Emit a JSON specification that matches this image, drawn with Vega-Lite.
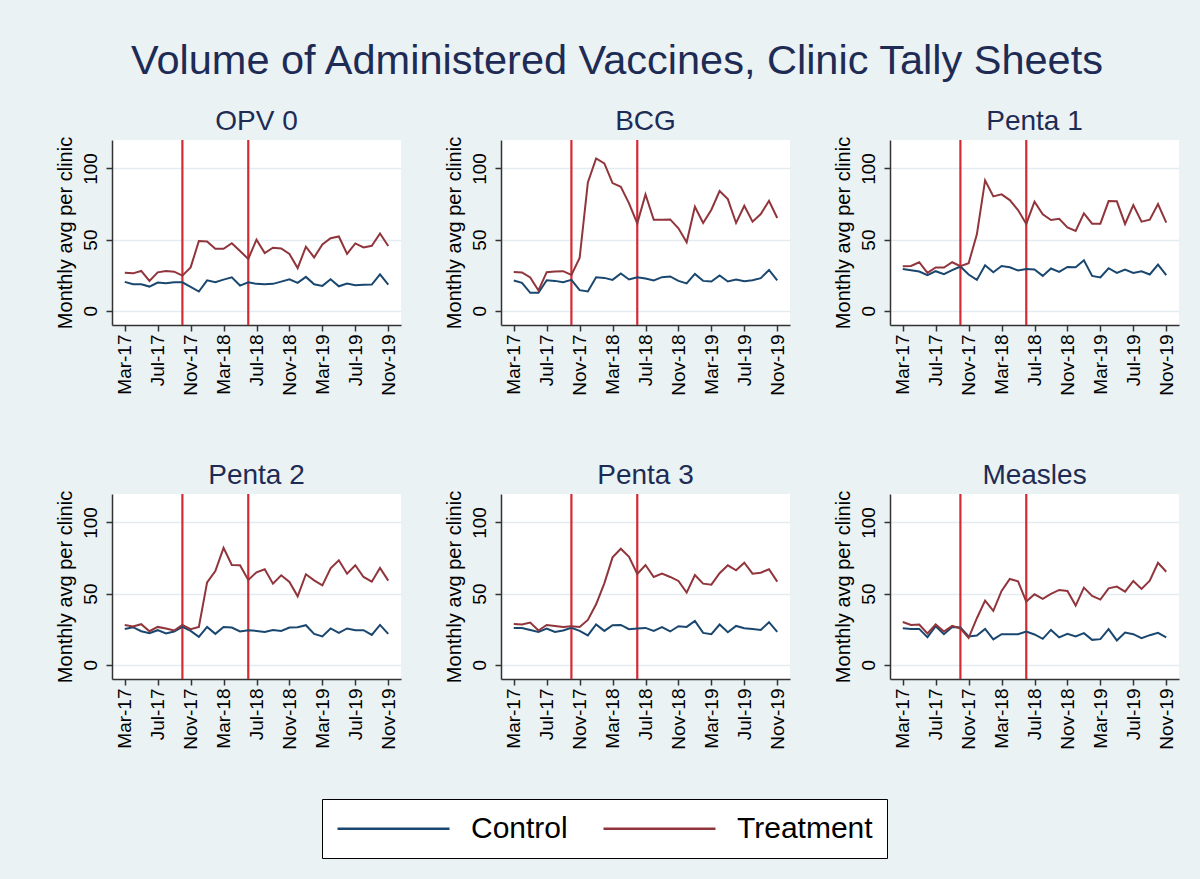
{
"$schema": "https://vega.github.io/schema/vega-lite/v6.json",
"background": "#EAF2F3",
"padding": {"left": 55, "top": 40, "right": 26, "bottom": 21},
"title": {"text": "Volume of Administered Vaccines, Clinic Tally Sheets", "fontSize": 41.5, "fontWeight": "normal", "color": "#1e2b55", "anchor": "middle", "offset": 26},
"datasets": {
"series": [
{"vaccine":"OPV 0","month":0,"group":"Control","value":20.3},{"vaccine":"OPV 0","month":1,"group":"Control","value":18.6},{"vaccine":"OPV 0","month":2,"group":"Control","value":18.6},{"vaccine":"OPV 0","month":3,"group":"Control","value":17},{"vaccine":"OPV 0","month":4,"group":"Control","value":19.8},{"vaccine":"OPV 0","month":5,"group":"Control","value":19.3},{"vaccine":"OPV 0","month":6,"group":"Control","value":20},{"vaccine":"OPV 0","month":7,"group":"Control","value":20},{"vaccine":"OPV 0","month":8,"group":"Control","value":16.8},{"vaccine":"OPV 0","month":9,"group":"Control","value":13.5},{"vaccine":"OPV 0","month":10,"group":"Control","value":21.4},{"vaccine":"OPV 0","month":11,"group":"Control","value":20},{"vaccine":"OPV 0","month":12,"group":"Control","value":21.9},{"vaccine":"OPV 0","month":13,"group":"Control","value":23.5},{"vaccine":"OPV 0","month":14,"group":"Control","value":17.7},{"vaccine":"OPV 0","month":15,"group":"Control","value":20},{"vaccine":"OPV 0","month":16,"group":"Control","value":18.9},{"vaccine":"OPV 0","month":17,"group":"Control","value":18.6},{"vaccine":"OPV 0","month":18,"group":"Control","value":18.9},{"vaccine":"OPV 0","month":19,"group":"Control","value":20.5},{"vaccine":"OPV 0","month":20,"group":"Control","value":22.1},{"vaccine":"OPV 0","month":21,"group":"Control","value":19.6},{"vaccine":"OPV 0","month":22,"group":"Control","value":23.8},{"vaccine":"OPV 0","month":23,"group":"Control","value":18.6},{"vaccine":"OPV 0","month":24,"group":"Control","value":17.5},{"vaccine":"OPV 0","month":25,"group":"Control","value":22.1},{"vaccine":"OPV 0","month":26,"group":"Control","value":17.2},{"vaccine":"OPV 0","month":27,"group":"Control","value":19.1},{"vaccine":"OPV 0","month":28,"group":"Control","value":18},{"vaccine":"OPV 0","month":29,"group":"Control","value":18.2},{"vaccine":"OPV 0","month":30,"group":"Control","value":18.4},{"vaccine":"OPV 0","month":31,"group":"Control","value":25.6},{"vaccine":"OPV 0","month":32,"group":"Control","value":18.4},
{"vaccine":"OPV 0","month":0,"group":"Treatment","value":26.8},{"vaccine":"OPV 0","month":1,"group":"Treatment","value":26.3},{"vaccine":"OPV 0","month":2,"group":"Treatment","value":28},{"vaccine":"OPV 0","month":3,"group":"Treatment","value":21},{"vaccine":"OPV 0","month":4,"group":"Treatment","value":27},{"vaccine":"OPV 0","month":5,"group":"Treatment","value":28},{"vaccine":"OPV 0","month":6,"group":"Treatment","value":27.5},{"vaccine":"OPV 0","month":7,"group":"Treatment","value":24.7},{"vaccine":"OPV 0","month":8,"group":"Treatment","value":30.5},{"vaccine":"OPV 0","month":9,"group":"Treatment","value":49},{"vaccine":"OPV 0","month":10,"group":"Treatment","value":48.7},{"vaccine":"OPV 0","month":11,"group":"Treatment","value":43.6},{"vaccine":"OPV 0","month":12,"group":"Treatment","value":43.6},{"vaccine":"OPV 0","month":13,"group":"Treatment","value":47.5},{"vaccine":"OPV 0","month":14,"group":"Treatment","value":42},{"vaccine":"OPV 0","month":15,"group":"Treatment","value":36.4},{"vaccine":"OPV 0","month":16,"group":"Treatment","value":50},{"vaccine":"OPV 0","month":17,"group":"Treatment","value":40.6},{"vaccine":"OPV 0","month":18,"group":"Treatment","value":44.3},{"vaccine":"OPV 0","month":19,"group":"Treatment","value":43.8},{"vaccine":"OPV 0","month":20,"group":"Treatment","value":39.9},{"vaccine":"OPV 0","month":21,"group":"Treatment","value":30},{"vaccine":"OPV 0","month":22,"group":"Treatment","value":45},{"vaccine":"OPV 0","month":23,"group":"Treatment","value":37.5},{"vaccine":"OPV 0","month":24,"group":"Treatment","value":46.6},{"vaccine":"OPV 0","month":25,"group":"Treatment","value":51},{"vaccine":"OPV 0","month":26,"group":"Treatment","value":52.2},{"vaccine":"OPV 0","month":27,"group":"Treatment","value":40},{"vaccine":"OPV 0","month":28,"group":"Treatment","value":47.3},{"vaccine":"OPV 0","month":29,"group":"Treatment","value":44.5},{"vaccine":"OPV 0","month":30,"group":"Treatment","value":45.7},{"vaccine":"OPV 0","month":31,"group":"Treatment","value":54.3},{"vaccine":"OPV 0","month":32,"group":"Treatment","value":45.5},
{"vaccine":"BCG","month":0,"group":"Control","value":21.3},{"vaccine":"BCG","month":1,"group":"Control","value":19.6},{"vaccine":"BCG","month":2,"group":"Control","value":12.6},{"vaccine":"BCG","month":3,"group":"Control","value":12.6},{"vaccine":"BCG","month":4,"group":"Control","value":21.5},{"vaccine":"BCG","month":5,"group":"Control","value":21},{"vaccine":"BCG","month":6,"group":"Control","value":20.1},{"vaccine":"BCG","month":7,"group":"Control","value":21.7},{"vaccine":"BCG","month":8,"group":"Control","value":14.5},{"vaccine":"BCG","month":9,"group":"Control","value":13.6},{"vaccine":"BCG","month":10,"group":"Control","value":23.6},{"vaccine":"BCG","month":11,"group":"Control","value":23.1},{"vaccine":"BCG","month":12,"group":"Control","value":21.7},{"vaccine":"BCG","month":13,"group":"Control","value":26.2},{"vaccine":"BCG","month":14,"group":"Control","value":22},{"vaccine":"BCG","month":15,"group":"Control","value":23.6},{"vaccine":"BCG","month":16,"group":"Control","value":22.7},{"vaccine":"BCG","month":17,"group":"Control","value":21.3},{"vaccine":"BCG","month":18,"group":"Control","value":23.6},{"vaccine":"BCG","month":19,"group":"Control","value":24.1},{"vaccine":"BCG","month":20,"group":"Control","value":21},{"vaccine":"BCG","month":21,"group":"Control","value":19.2},{"vaccine":"BCG","month":22,"group":"Control","value":25.9},{"vaccine":"BCG","month":23,"group":"Control","value":21},{"vaccine":"BCG","month":24,"group":"Control","value":20.6},{"vaccine":"BCG","month":25,"group":"Control","value":24.8},{"vaccine":"BCG","month":26,"group":"Control","value":20.6},{"vaccine":"BCG","month":27,"group":"Control","value":22},{"vaccine":"BCG","month":28,"group":"Control","value":20.8},{"vaccine":"BCG","month":29,"group":"Control","value":21.5},{"vaccine":"BCG","month":30,"group":"Control","value":22.9},{"vaccine":"BCG","month":31,"group":"Control","value":28.7},{"vaccine":"BCG","month":32,"group":"Control","value":21.3},
{"vaccine":"BCG","month":0,"group":"Treatment","value":27.3},{"vaccine":"BCG","month":1,"group":"Treatment","value":26.9},{"vaccine":"BCG","month":2,"group":"Treatment","value":23.4},{"vaccine":"BCG","month":3,"group":"Treatment","value":14.3},{"vaccine":"BCG","month":4,"group":"Treatment","value":27.1},{"vaccine":"BCG","month":5,"group":"Treatment","value":27.6},{"vaccine":"BCG","month":6,"group":"Treatment","value":27.8},{"vaccine":"BCG","month":7,"group":"Treatment","value":25.2},{"vaccine":"BCG","month":8,"group":"Treatment","value":37.1},{"vaccine":"BCG","month":9,"group":"Treatment","value":90.2},{"vaccine":"BCG","month":10,"group":"Treatment","value":107},{"vaccine":"BCG","month":11,"group":"Treatment","value":103.5},{"vaccine":"BCG","month":12,"group":"Treatment","value":89.7},{"vaccine":"BCG","month":13,"group":"Treatment","value":87.1},{"vaccine":"BCG","month":14,"group":"Treatment","value":75.5},{"vaccine":"BCG","month":15,"group":"Treatment","value":61.4},{"vaccine":"BCG","month":16,"group":"Treatment","value":81.8},{"vaccine":"BCG","month":17,"group":"Treatment","value":64},{"vaccine":"BCG","month":18,"group":"Treatment","value":64},{"vaccine":"BCG","month":19,"group":"Treatment","value":64.2},{"vaccine":"BCG","month":20,"group":"Treatment","value":58},{"vaccine":"BCG","month":21,"group":"Treatment","value":48.1},{"vaccine":"BCG","month":22,"group":"Treatment","value":73.1},{"vaccine":"BCG","month":23,"group":"Treatment","value":61.7},{"vaccine":"BCG","month":24,"group":"Treatment","value":71},{"vaccine":"BCG","month":25,"group":"Treatment","value":84.1},{"vaccine":"BCG","month":26,"group":"Treatment","value":78.5},{"vaccine":"BCG","month":27,"group":"Treatment","value":61.7},{"vaccine":"BCG","month":28,"group":"Treatment","value":73.8},{"vaccine":"BCG","month":29,"group":"Treatment","value":62.6},{"vaccine":"BCG","month":30,"group":"Treatment","value":68},{"vaccine":"BCG","month":31,"group":"Treatment","value":77.3},{"vaccine":"BCG","month":32,"group":"Treatment","value":65.2},
{"vaccine":"Penta 1","month":0,"group":"Control","value":29.4},{"vaccine":"Penta 1","month":1,"group":"Control","value":28.5},{"vaccine":"Penta 1","month":2,"group":"Control","value":27.6},{"vaccine":"Penta 1","month":3,"group":"Control","value":25},{"vaccine":"Penta 1","month":4,"group":"Control","value":27.8},{"vaccine":"Penta 1","month":5,"group":"Control","value":25.7},{"vaccine":"Penta 1","month":6,"group":"Control","value":28.5},{"vaccine":"Penta 1","month":7,"group":"Control","value":31.1},{"vaccine":"Penta 1","month":8,"group":"Control","value":25.5},{"vaccine":"Penta 1","month":9,"group":"Control","value":21.7},{"vaccine":"Penta 1","month":10,"group":"Control","value":32},{"vaccine":"Penta 1","month":11,"group":"Control","value":27.1},{"vaccine":"Penta 1","month":12,"group":"Control","value":31.5},{"vaccine":"Penta 1","month":13,"group":"Control","value":30.6},{"vaccine":"Penta 1","month":14,"group":"Control","value":28.3},{"vaccine":"Penta 1","month":15,"group":"Control","value":29.4},{"vaccine":"Penta 1","month":16,"group":"Control","value":29},{"vaccine":"Penta 1","month":17,"group":"Control","value":24.5},{"vaccine":"Penta 1","month":18,"group":"Control","value":29.7},{"vaccine":"Penta 1","month":19,"group":"Control","value":27.3},{"vaccine":"Penta 1","month":20,"group":"Control","value":30.8},{"vaccine":"Penta 1","month":21,"group":"Control","value":30.6},{"vaccine":"Penta 1","month":22,"group":"Control","value":35.5},{"vaccine":"Penta 1","month":23,"group":"Control","value":24.5},{"vaccine":"Penta 1","month":24,"group":"Control","value":23.4},{"vaccine":"Penta 1","month":25,"group":"Control","value":29.9},{"vaccine":"Penta 1","month":26,"group":"Control","value":26.6},{"vaccine":"Penta 1","month":27,"group":"Control","value":29},{"vaccine":"Penta 1","month":28,"group":"Control","value":26.6},{"vaccine":"Penta 1","month":29,"group":"Control","value":27.8},{"vaccine":"Penta 1","month":30,"group":"Control","value":25.5},{"vaccine":"Penta 1","month":31,"group":"Control","value":32.5},{"vaccine":"Penta 1","month":32,"group":"Control","value":25},
{"vaccine":"Penta 1","month":0,"group":"Treatment","value":31.3},{"vaccine":"Penta 1","month":1,"group":"Treatment","value":31.5},{"vaccine":"Penta 1","month":2,"group":"Treatment","value":34.1},{"vaccine":"Penta 1","month":3,"group":"Treatment","value":26.6},{"vaccine":"Penta 1","month":4,"group":"Treatment","value":30.4},{"vaccine":"Penta 1","month":5,"group":"Treatment","value":30.4},{"vaccine":"Penta 1","month":6,"group":"Treatment","value":34.1},{"vaccine":"Penta 1","month":7,"group":"Treatment","value":31.3},{"vaccine":"Penta 1","month":8,"group":"Treatment","value":33.4},{"vaccine":"Penta 1","month":9,"group":"Treatment","value":53.7},{"vaccine":"Penta 1","month":10,"group":"Treatment","value":91.6},{"vaccine":"Penta 1","month":11,"group":"Treatment","value":80.4},{"vaccine":"Penta 1","month":12,"group":"Treatment","value":81.8},{"vaccine":"Penta 1","month":13,"group":"Treatment","value":77.8},{"vaccine":"Penta 1","month":14,"group":"Treatment","value":70.8},{"vaccine":"Penta 1","month":15,"group":"Treatment","value":61},{"vaccine":"Penta 1","month":16,"group":"Treatment","value":76.6},{"vaccine":"Penta 1","month":17,"group":"Treatment","value":67.8},{"vaccine":"Penta 1","month":18,"group":"Treatment","value":63.8},{"vaccine":"Penta 1","month":19,"group":"Treatment","value":64.7},{"vaccine":"Penta 1","month":20,"group":"Treatment","value":58.6},{"vaccine":"Penta 1","month":21,"group":"Treatment","value":56.1},{"vaccine":"Penta 1","month":22,"group":"Treatment","value":68.5},{"vaccine":"Penta 1","month":23,"group":"Treatment","value":61.2},{"vaccine":"Penta 1","month":24,"group":"Treatment","value":61.2},{"vaccine":"Penta 1","month":25,"group":"Treatment","value":77.1},{"vaccine":"Penta 1","month":26,"group":"Treatment","value":76.9},{"vaccine":"Penta 1","month":27,"group":"Treatment","value":61},{"vaccine":"Penta 1","month":28,"group":"Treatment","value":74.3},{"vaccine":"Penta 1","month":29,"group":"Treatment","value":62.6},{"vaccine":"Penta 1","month":30,"group":"Treatment","value":64},{"vaccine":"Penta 1","month":31,"group":"Treatment","value":75},{"vaccine":"Penta 1","month":32,"group":"Treatment","value":61.9},
{"vaccine":"Penta 2","month":0,"group":"Control","value":25.2},{"vaccine":"Penta 2","month":1,"group":"Control","value":26.4},{"vaccine":"Penta 2","month":2,"group":"Control","value":23.6},{"vaccine":"Penta 2","month":3,"group":"Control","value":22.2},{"vaccine":"Penta 2","month":4,"group":"Control","value":24.3},{"vaccine":"Penta 2","month":5,"group":"Control","value":22},{"vaccine":"Penta 2","month":6,"group":"Control","value":23.4},{"vaccine":"Penta 2","month":7,"group":"Control","value":26.6},{"vaccine":"Penta 2","month":8,"group":"Control","value":23.8},{"vaccine":"Penta 2","month":9,"group":"Control","value":19.6},{"vaccine":"Penta 2","month":10,"group":"Control","value":26.6},{"vaccine":"Penta 2","month":11,"group":"Control","value":21.7},{"vaccine":"Penta 2","month":12,"group":"Control","value":26.6},{"vaccine":"Penta 2","month":13,"group":"Control","value":26.2},{"vaccine":"Penta 2","month":14,"group":"Control","value":23.4},{"vaccine":"Penta 2","month":15,"group":"Control","value":24.3},{"vaccine":"Penta 2","month":16,"group":"Control","value":23.8},{"vaccine":"Penta 2","month":17,"group":"Control","value":23.1},{"vaccine":"Penta 2","month":18,"group":"Control","value":24.5},{"vaccine":"Penta 2","month":19,"group":"Control","value":23.8},{"vaccine":"Penta 2","month":20,"group":"Control","value":26.2},{"vaccine":"Penta 2","month":21,"group":"Control","value":26.4},{"vaccine":"Penta 2","month":22,"group":"Control","value":27.8},{"vaccine":"Penta 2","month":23,"group":"Control","value":21.7},{"vaccine":"Penta 2","month":24,"group":"Control","value":19.9},{"vaccine":"Penta 2","month":25,"group":"Control","value":25.5},{"vaccine":"Penta 2","month":26,"group":"Control","value":22.4},{"vaccine":"Penta 2","month":27,"group":"Control","value":25.5},{"vaccine":"Penta 2","month":28,"group":"Control","value":24.3},{"vaccine":"Penta 2","month":29,"group":"Control","value":24.3},{"vaccine":"Penta 2","month":30,"group":"Control","value":21},{"vaccine":"Penta 2","month":31,"group":"Control","value":28},{"vaccine":"Penta 2","month":32,"group":"Control","value":21.7},
{"vaccine":"Penta 2","month":0,"group":"Treatment","value":28},{"vaccine":"Penta 2","month":1,"group":"Treatment","value":26.9},{"vaccine":"Penta 2","month":2,"group":"Treatment","value":28.5},{"vaccine":"Penta 2","month":3,"group":"Treatment","value":23.6},{"vaccine":"Penta 2","month":4,"group":"Treatment","value":26.6},{"vaccine":"Penta 2","month":5,"group":"Treatment","value":25.5},{"vaccine":"Penta 2","month":6,"group":"Treatment","value":24.1},{"vaccine":"Penta 2","month":7,"group":"Treatment","value":28},{"vaccine":"Penta 2","month":8,"group":"Treatment","value":25},{"vaccine":"Penta 2","month":9,"group":"Treatment","value":26.6},{"vaccine":"Penta 2","month":10,"group":"Treatment","value":57.9},{"vaccine":"Penta 2","month":11,"group":"Treatment","value":65.9},{"vaccine":"Penta 2","month":12,"group":"Treatment","value":82.2},{"vaccine":"Penta 2","month":13,"group":"Treatment","value":70.1},{"vaccine":"Penta 2","month":14,"group":"Treatment","value":69.9},{"vaccine":"Penta 2","month":15,"group":"Treatment","value":59.6},{"vaccine":"Penta 2","month":16,"group":"Treatment","value":65},{"vaccine":"Penta 2","month":17,"group":"Treatment","value":67.1},{"vaccine":"Penta 2","month":18,"group":"Treatment","value":57},{"vaccine":"Penta 2","month":19,"group":"Treatment","value":62.9},{"vaccine":"Penta 2","month":20,"group":"Treatment","value":58.2},{"vaccine":"Penta 2","month":21,"group":"Treatment","value":48.1},{"vaccine":"Penta 2","month":22,"group":"Treatment","value":63.6},{"vaccine":"Penta 2","month":23,"group":"Treatment","value":59.3},{"vaccine":"Penta 2","month":24,"group":"Treatment","value":55.8},{"vaccine":"Penta 2","month":25,"group":"Treatment","value":67.8},{"vaccine":"Penta 2","month":26,"group":"Treatment","value":73.4},{"vaccine":"Penta 2","month":27,"group":"Treatment","value":64},{"vaccine":"Penta 2","month":28,"group":"Treatment","value":69.9},{"vaccine":"Penta 2","month":29,"group":"Treatment","value":61.7},{"vaccine":"Penta 2","month":30,"group":"Treatment","value":58.4},{"vaccine":"Penta 2","month":31,"group":"Treatment","value":68},{"vaccine":"Penta 2","month":32,"group":"Treatment","value":59.1},
{"vaccine":"Penta 3","month":0,"group":"Control","value":25.9},{"vaccine":"Penta 3","month":1,"group":"Control","value":25.9},{"vaccine":"Penta 3","month":2,"group":"Control","value":24.5},{"vaccine":"Penta 3","month":3,"group":"Control","value":23.1},{"vaccine":"Penta 3","month":4,"group":"Control","value":25.5},{"vaccine":"Penta 3","month":5,"group":"Control","value":23.1},{"vaccine":"Penta 3","month":6,"group":"Control","value":24.1},{"vaccine":"Penta 3","month":7,"group":"Control","value":25.9},{"vaccine":"Penta 3","month":8,"group":"Control","value":23.8},{"vaccine":"Penta 3","month":9,"group":"Control","value":20.6},{"vaccine":"Penta 3","month":10,"group":"Control","value":28.3},{"vaccine":"Penta 3","month":11,"group":"Control","value":23.8},{"vaccine":"Penta 3","month":12,"group":"Control","value":27.8},{"vaccine":"Penta 3","month":13,"group":"Control","value":28},{"vaccine":"Penta 3","month":14,"group":"Control","value":25},{"vaccine":"Penta 3","month":15,"group":"Control","value":25.5},{"vaccine":"Penta 3","month":16,"group":"Control","value":25.9},{"vaccine":"Penta 3","month":17,"group":"Control","value":23.8},{"vaccine":"Penta 3","month":18,"group":"Control","value":26.4},{"vaccine":"Penta 3","month":19,"group":"Control","value":23.4},{"vaccine":"Penta 3","month":20,"group":"Control","value":27.1},{"vaccine":"Penta 3","month":21,"group":"Control","value":26.6},{"vaccine":"Penta 3","month":22,"group":"Control","value":30.8},{"vaccine":"Penta 3","month":23,"group":"Control","value":22.4},{"vaccine":"Penta 3","month":24,"group":"Control","value":21.5},{"vaccine":"Penta 3","month":25,"group":"Control","value":28.3},{"vaccine":"Penta 3","month":26,"group":"Control","value":22.9},{"vaccine":"Penta 3","month":27,"group":"Control","value":27.3},{"vaccine":"Penta 3","month":28,"group":"Control","value":25.7},{"vaccine":"Penta 3","month":29,"group":"Control","value":25.2},{"vaccine":"Penta 3","month":30,"group":"Control","value":24.5},{"vaccine":"Penta 3","month":31,"group":"Control","value":29.9},{"vaccine":"Penta 3","month":32,"group":"Control","value":23.1},
{"vaccine":"Penta 3","month":0,"group":"Treatment","value":28.7},{"vaccine":"Penta 3","month":1,"group":"Treatment","value":28.3},{"vaccine":"Penta 3","month":2,"group":"Treatment","value":29.7},{"vaccine":"Penta 3","month":3,"group":"Treatment","value":24.1},{"vaccine":"Penta 3","month":4,"group":"Treatment","value":28},{"vaccine":"Penta 3","month":5,"group":"Treatment","value":27.3},{"vaccine":"Penta 3","month":6,"group":"Treatment","value":26.6},{"vaccine":"Penta 3","month":7,"group":"Treatment","value":27.1},{"vaccine":"Penta 3","month":8,"group":"Treatment","value":26.6},{"vaccine":"Penta 3","month":9,"group":"Treatment","value":31.5},{"vaccine":"Penta 3","month":10,"group":"Treatment","value":42.5},{"vaccine":"Penta 3","month":11,"group":"Treatment","value":57.2},{"vaccine":"Penta 3","month":12,"group":"Treatment","value":75.5},{"vaccine":"Penta 3","month":13,"group":"Treatment","value":81.5},{"vaccine":"Penta 3","month":14,"group":"Treatment","value":75.9},{"vaccine":"Penta 3","month":15,"group":"Treatment","value":63.8},{"vaccine":"Penta 3","month":16,"group":"Treatment","value":70.1},{"vaccine":"Penta 3","month":17,"group":"Treatment","value":61.7},{"vaccine":"Penta 3","month":18,"group":"Treatment","value":64},{"vaccine":"Penta 3","month":19,"group":"Treatment","value":61.7},{"vaccine":"Penta 3","month":20,"group":"Treatment","value":58.9},{"vaccine":"Penta 3","month":21,"group":"Treatment","value":50.7},{"vaccine":"Penta 3","month":22,"group":"Treatment","value":63.1},{"vaccine":"Penta 3","month":23,"group":"Treatment","value":57},{"vaccine":"Penta 3","month":24,"group":"Treatment","value":56.3},{"vaccine":"Penta 3","month":25,"group":"Treatment","value":64.3},{"vaccine":"Penta 3","month":26,"group":"Treatment","value":69.9},{"vaccine":"Penta 3","month":27,"group":"Treatment","value":66.4},{"vaccine":"Penta 3","month":28,"group":"Treatment","value":71.7},{"vaccine":"Penta 3","month":29,"group":"Treatment","value":64},{"vaccine":"Penta 3","month":30,"group":"Treatment","value":64.7},{"vaccine":"Penta 3","month":31,"group":"Treatment","value":67.1},{"vaccine":"Penta 3","month":32,"group":"Treatment","value":58.4},
{"vaccine":"Measles","month":0,"group":"Control","value":25.7},{"vaccine":"Measles","month":1,"group":"Control","value":25.2},{"vaccine":"Measles","month":2,"group":"Control","value":25.2},{"vaccine":"Measles","month":3,"group":"Control","value":19.4},{"vaccine":"Measles","month":4,"group":"Control","value":27.1},{"vaccine":"Measles","month":5,"group":"Control","value":21.5},{"vaccine":"Measles","month":6,"group":"Control","value":26.6},{"vaccine":"Measles","month":7,"group":"Control","value":26.2},{"vaccine":"Measles","month":8,"group":"Control","value":19.9},{"vaccine":"Measles","month":9,"group":"Control","value":20.6},{"vaccine":"Measles","month":10,"group":"Control","value":25.2},{"vaccine":"Measles","month":11,"group":"Control","value":17.8},{"vaccine":"Measles","month":12,"group":"Control","value":21.5},{"vaccine":"Measles","month":13,"group":"Control","value":21.5},{"vaccine":"Measles","month":14,"group":"Control","value":21.5},{"vaccine":"Measles","month":15,"group":"Control","value":23.4},{"vaccine":"Measles","month":16,"group":"Control","value":21.3},{"vaccine":"Measles","month":17,"group":"Control","value":18.2},{"vaccine":"Measles","month":18,"group":"Control","value":24.5},{"vaccine":"Measles","month":19,"group":"Control","value":19.2},{"vaccine":"Measles","month":20,"group":"Control","value":21.7},{"vaccine":"Measles","month":21,"group":"Control","value":19.9},{"vaccine":"Measles","month":22,"group":"Control","value":22.2},{"vaccine":"Measles","month":23,"group":"Control","value":17.5},{"vaccine":"Measles","month":24,"group":"Control","value":18},{"vaccine":"Measles","month":25,"group":"Control","value":25},{"vaccine":"Measles","month":26,"group":"Control","value":17.1},{"vaccine":"Measles","month":27,"group":"Control","value":22.7},{"vaccine":"Measles","month":28,"group":"Control","value":21.5},{"vaccine":"Measles","month":29,"group":"Control","value":18.7},{"vaccine":"Measles","month":30,"group":"Control","value":20.8},{"vaccine":"Measles","month":31,"group":"Control","value":22.4},{"vaccine":"Measles","month":32,"group":"Control","value":19.2},
{"vaccine":"Measles","month":0,"group":"Treatment","value":30.1},{"vaccine":"Measles","month":1,"group":"Treatment","value":28},{"vaccine":"Measles","month":2,"group":"Treatment","value":28.3},{"vaccine":"Measles","month":3,"group":"Treatment","value":22},{"vaccine":"Measles","month":4,"group":"Treatment","value":28.3},{"vaccine":"Measles","month":5,"group":"Treatment","value":23.4},{"vaccine":"Measles","month":6,"group":"Treatment","value":27.3},{"vaccine":"Measles","month":7,"group":"Treatment","value":25.5},{"vaccine":"Measles","month":8,"group":"Treatment","value":18.9},{"vaccine":"Measles","month":9,"group":"Treatment","value":32.7},{"vaccine":"Measles","month":10,"group":"Treatment","value":45.1},{"vaccine":"Measles","month":11,"group":"Treatment","value":37.9},{"vaccine":"Measles","month":12,"group":"Treatment","value":51.9},{"vaccine":"Measles","month":13,"group":"Treatment","value":60.3},{"vaccine":"Measles","month":14,"group":"Treatment","value":58.6},{"vaccine":"Measles","month":15,"group":"Treatment","value":44.4},{"vaccine":"Measles","month":16,"group":"Treatment","value":49.5},{"vaccine":"Measles","month":17,"group":"Treatment","value":46.3},{"vaccine":"Measles","month":18,"group":"Treatment","value":49.8},{"vaccine":"Measles","month":19,"group":"Treatment","value":52.6},{"vaccine":"Measles","month":20,"group":"Treatment","value":51.9},{"vaccine":"Measles","month":21,"group":"Treatment","value":41.6},{"vaccine":"Measles","month":22,"group":"Treatment","value":54.2},{"vaccine":"Measles","month":23,"group":"Treatment","value":48.4},{"vaccine":"Measles","month":24,"group":"Treatment","value":45.8},{"vaccine":"Measles","month":25,"group":"Treatment","value":53.7},{"vaccine":"Measles","month":26,"group":"Treatment","value":54.9},{"vaccine":"Measles","month":27,"group":"Treatment","value":51.4},{"vaccine":"Measles","month":28,"group":"Treatment","value":58.9},{"vaccine":"Measles","month":29,"group":"Treatment","value":53.3},{"vaccine":"Measles","month":30,"group":"Treatment","value":59.1},{"vaccine":"Measles","month":31,"group":"Treatment","value":71.7},{"vaccine":"Measles","month":32,"group":"Treatment","value":65.4},
{"vaccine":"OPV 0","month":7,"marker":"start"},{"vaccine":"OPV 0","month":15,"marker":"end"},
{"vaccine":"BCG","month":7,"marker":"start"},{"vaccine":"BCG","month":15,"marker":"end"},
{"vaccine":"Penta 1","month":7,"marker":"start"},{"vaccine":"Penta 1","month":15,"marker":"end"},
{"vaccine":"Penta 2","month":7,"marker":"start"},{"vaccine":"Penta 2","month":15,"marker":"end"},
{"vaccine":"Penta 3","month":7,"marker":"start"},{"vaccine":"Penta 3","month":15,"marker":"end"},
{"vaccine":"Measles","month":7,"marker":"start"},{"vaccine":"Measles","month":15,"marker":"end"}
]
},
"data": {"name": "series"},
"facet": {"field": "vaccine", "type": "nominal", "sort": ["OPV 0", "BCG", "Penta 1", "Penta 2", "Penta 3", "Measles"], "header": {"title": null, "labelFontSize": 28, "labelColor": "#1e2b55", "labelPadding": 0}},
"columns": 3,
"spacing": {"column": 43, "row": 66},
"resolve": {"axis": {"x": "independent", "y": "independent"}},
"spec": {
  "width": 289,
  "height": 185,
  "layer": [
    {
      "transform": [{"filter": "isValid(datum.marker)"}],
      "mark": {"type": "rule", "color": "#d42a34", "strokeWidth": 2.2},
      "encoding": {
        "x": {"field": "month", "type": "quantitative", "title": null,
              "scale": {"domain": [-1.55, 33.55], "nice": false, "zero": false},
              "axis": {"values": [0, 4, 8, 12, 16, 20, 24, 28, 32], "labelAngle": -90, "grid": false, "labelPadding": 3,
                       "labelOverlap": false, "labelFlush": false, "labelBound": false,
                       "labelExpr": "['Mar-17','Jul-17','Nov-17','Mar-18','Jul-18','Nov-18','Mar-19','Jul-19','Nov-19'][round(datum.value/4)]"}}
      }
    },
    {
      "transform": [{"filter": "isValid(datum.group)"}],
      "mark": {"type": "line", "strokeWidth": 2},
      "encoding": {
        "x": {"field": "month", "type": "quantitative", "title": null,
              "scale": {"domain": [-1.55, 33.55], "nice": false, "zero": false},
              "axis": {"values": [0, 4, 8, 12, 16, 20, 24, 28, 32], "labelAngle": -90, "grid": false, "labelPadding": 3,
                       "labelOverlap": false, "labelFlush": false, "labelBound": false,
                       "labelExpr": "['Mar-17','Jul-17','Nov-17','Mar-18','Jul-18','Nov-18','Mar-19','Jul-19','Nov-19'][round(datum.value/4)]"}},
        "y": {"field": "value", "type": "quantitative", "title": "Monthly avg per clinic",
              "scale": {"domain": [-10, 120], "nice": false, "zero": false},
              "axis": {"values": [0, 50, 100], "labelAngle": -90, "grid": true, "labelPadding": 6, "titlePadding": 6,
                       "labelOverlap": false, "labelFlush": false}},
        "color": {"field": "group", "type": "nominal", "scale": {"domain": ["Control", "Treatment"], "range": ["#1a476f", "#90353b"]},
                  "legend": {"orient": "none", "legendX": 210, "legendY": 659, "direction": "horizontal", "title": null,
                             "strokeColor": "black", "fillColor": "white", "padding": 14, "symbolType": "M-1,0H7", "symbolSize": 784,
                             "symbolStrokeWidth": 2.5, "labelFontSize": 30, "labelColor": "black", "labelOffset": 104, "columnPadding": 30}}
      }
    }
  ]
},
"config": {
  "font": "Liberation Sans",
  "view": {"fill": "white", "stroke": null},
  "axisX": {"labelOverlap": false},
  "axis": {"domainColor": "#333333", "domainWidth": 1.5, "tickColor": "#333333", "tickWidth": 1.5, "tickSize": 6,
           "labelColor": "black", "labelFontSize": 19, "titleFontSize": 20, "titleFontWeight": "normal", "titleColor": "black",
           "gridColor": "#E3ECF0", "gridWidth": 1.5}
}
}
